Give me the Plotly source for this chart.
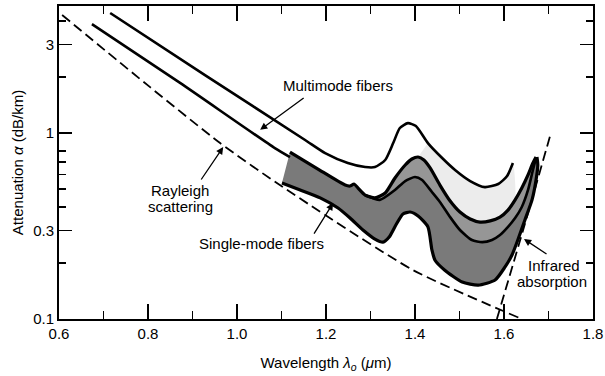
import numpy as np
import plotly.graph_objects as go

# ---------------- data ----------------
# Rayleigh scattering limit (dashed)
rayleigh_wl = [0.607, 0.804, 0.962, 1.103, 1.396, 1.636]
rayleigh_att = [4.31, 1.77, 0.883, 0.512, 0.183, 0.101]

# Infrared absorption limit (dashed)
infrared_wl = [1.584, 1.643, 1.703]
infrared_att = [0.100, 0.301, 0.954]

# Multimode fibers, upper curve
mm_upper_wl = [0.715, 0.928, 1.153, 1.198, 1.249, 1.288, 1.310, 1.333, 1.351, 1.366,
               1.384, 1.402, 1.429, 1.461, 1.490, 1.524, 1.557, 1.587, 1.607, 1.620]
mm_upper_att = [4.42, 2.05, 0.917, 0.780, 0.690, 0.656, 0.656, 0.716, 0.883, 1.064,
                1.13, 1.09, 0.883, 0.734, 0.633, 0.552, 0.512, 0.532, 0.587, 0.690]

# Multimode fibers, lower curve (runs into the single-mode band)
mm_lower_wl = [0.674, 0.872, 1.085, 1.119]
mm_lower_att = [3.85, 1.86, 0.830, 0.743]

# Single-mode fibers band: upper edge
sm_top_wl = [1.119, 1.182, 1.243, 1.254, 1.263, 1.272, 1.288, 1.310, 1.333, 1.355,
             1.378, 1.393, 1.407, 1.420, 1.434, 1.456, 1.479, 1.501, 1.524, 1.546,
             1.569, 1.591, 1.609, 1.625, 1.640, 1.654, 1.665, 1.672]
sm_top_att = [0.790, 0.640, 0.525, 0.519, 0.532, 0.506, 0.464, 0.448, 0.476, 0.573,
              0.673, 0.725, 0.743, 0.716, 0.649, 0.525, 0.431, 0.376, 0.345, 0.332,
              0.337, 0.353, 0.385, 0.437, 0.506, 0.595, 0.690, 0.743]

# Single-mode fibers band: middle line
sm_mid_wl = [1.288, 1.321, 1.355, 1.378, 1.400, 1.416, 1.438, 1.456, 1.479, 1.501,
             1.528, 1.551, 1.573, 1.591, 1.609, 1.625, 1.640, 1.654, 1.665, 1.672]
sm_mid_att = [0.464, 0.437, 0.494, 0.552, 0.580, 0.559, 0.482, 0.426, 0.353, 0.301,
              0.266, 0.259, 0.266, 0.283, 0.313, 0.349, 0.400, 0.494, 0.633, 0.734]

# Single-mode fibers band: lower edge
sm_bot_wl = [1.101, 1.142, 1.187, 1.227, 1.254, 1.283, 1.310, 1.328, 1.342, 1.357,
             1.373, 1.389, 1.407, 1.429, 1.438, 1.445, 1.467, 1.506, 1.542, 1.580,
             1.602, 1.618, 1.631, 1.647, 1.663, 1.672, 1.676, 1.674]
sm_bot_att = [0.538, 0.494, 0.448, 0.395, 0.349, 0.301, 0.269, 0.259, 0.276, 0.320,
              0.367, 0.376, 0.358, 0.313, 0.235, 0.207, 0.183, 0.158, 0.152, 0.162,
              0.190, 0.221, 0.266, 0.341, 0.437, 0.559, 0.673, 0.743]

x_tick_vals = [0.6, 0.8, 1.0, 1.2, 1.4, 1.6, 1.8]
x_tick_text = ["0.6", "0.8", "1.0", "1.2", "1.4", "1.6", "1.8"]
x_minor_vals = [0.7, 0.9, 1.1, 1.3, 1.5, 1.7]
y_tick_vals = [0.1, 0.3, 1, 3]
y_tick_text = ["0.1", "0.3", "1", "3"]
y_minor_vals = [0.2, 0.4, 0.5, 0.6, 0.7, 0.8, 2, 4]

FONT = "Liberation Sans, Arial, Helvetica, sans-serif"
FS = 15

fig = go.Figure()

# faint speckled zone between multimode curve and band top
sp_top_wl = [w for w in mm_upper_wl if w >= 1.42]
sp_top_att = [a for w, a in zip(mm_upper_wl, mm_upper_att) if w >= 1.42]
sp_bot_wl = [w for w in sm_top_wl if 1.407 <= w <= 1.625]
sp_bot_att = [a for w, a in zip(sm_top_wl, sm_top_att) if 1.407 <= w <= 1.625]
fig.add_trace(go.Scatter(x=sp_top_wl + sp_bot_wl[::-1], y=sp_top_att + sp_bot_att[::-1],
                         mode="lines", fill="toself", fillcolor="#ececec",
                         line=dict(width=0, shape="spline", smoothing=0.6),
                         hoverinfo="skip", showlegend=False))

# dark stippled band (whole single-mode region)
fig.add_trace(go.Scatter(x=sm_top_wl + sm_bot_wl[::-1], y=sm_top_att + sm_bot_att[::-1],
                         mode="lines", fill="toself", fillcolor="#7a7a7a",
                         line=dict(width=0, shape="spline", smoothing=0.6),
                         hoverinfo="skip", showlegend=False))

# lighter hatched sub-band
hb_top_wl = [w for w in sm_top_wl if w >= 1.288]
hb_top_att = [a for w, a in zip(sm_top_wl, sm_top_att) if w >= 1.288]
fig.add_trace(go.Scatter(x=hb_top_wl + sm_mid_wl[::-1], y=hb_top_att + sm_mid_att[::-1],
                         mode="lines", fill="toself", fillcolor="#969696",
                         line=dict(width=0, shape="spline", smoothing=0.6),
                         hoverinfo="skip", showlegend=False))

def line(x, y, w, dash=None):
    fig.add_trace(go.Scatter(x=x, y=y, mode="lines",
                             line=dict(color="black", width=w, dash=dash,
                                       shape="spline", smoothing=0.6),
                             hoverinfo="skip", showlegend=False))

line(sm_top_wl, sm_top_att, 3.2)
line(sm_mid_wl, sm_mid_att, 2.6)
line(sm_bot_wl, sm_bot_att, 3.2)
line(mm_upper_wl, mm_upper_att, 2.6)
line(mm_lower_wl, mm_lower_att, 2.6)
line(rayleigh_wl, rayleigh_att, 1.8, dash="10px,5px")
line(infrared_wl, infrared_att, 1.8, dash="10px,5px")

L = np.log10
annots = [
    dict(x=1.227, y=L(1.81), text="Multimode fibers"),
    dict(x=0.872, y=L(0.49), text="Rayleigh"),
    dict(x=0.872, y=L(0.405), text="scattering"),
    dict(x=1.056, y=L(0.256), text="Single-mode fibers"),
    dict(x=1.712, y=L(0.195), text="Infrared"),
    dict(x=1.708, y=L(0.160), text="absorption"),
]
for a in annots:
    fig.add_annotation(x=a["x"], y=a["y"], text=a["text"], showarrow=False,
                       font=dict(family=FONT, size=FS, color="black"),
                       xanchor="center", yanchor="middle")

arrows = [
    (1.052, 1.04, 45, -33),
    (0.969, 0.841, -23, 34),
    (1.216, 0.420, -20, 32),
    (1.645, 0.269, 24, 16),
]
for (x, y, ax, ay) in arrows:
    fig.add_annotation(x=x, y=L(y), ax=ax, ay=ay, text="", showarrow=True,
                       arrowhead=2, arrowsize=1.1, arrowwidth=1.3, arrowcolor="black")

fig.update_xaxes(range=[0.6, 1.8], tickvals=x_tick_vals, ticktext=x_tick_text,
                 ticks="inside", ticklen=15, tickwidth=1.5, tickcolor="black",
                 minor=dict(tickvals=x_minor_vals, ticks="inside", ticklen=8,
                            tickwidth=1.5, tickcolor="black"),
                 showline=True, linewidth=2, linecolor="black", mirror="ticks",
                 showgrid=False, zeroline=False, automargin=False,
                 ticklabeloverflow="allow",
                 tickfont=dict(family=FONT, size=FS, color="black"),
                 title=dict(text="Wavelength <i>λ</i><sub><i>o</i></sub> (<i>μ</i>m)",
                            font=dict(family=FONT, size=FS, color="black"), standoff=16))
fig.update_yaxes(type="log", range=[-1, 0.683], tickvals=y_tick_vals, ticktext=y_tick_text,
                 ticks="inside", ticklen=13, tickwidth=1.5, tickcolor="black",
                 minor=dict(tickvals=y_minor_vals, ticks="inside", ticklen=7,
                            tickwidth=1.5, tickcolor="black"),
                 showline=True, linewidth=2, linecolor="black", mirror="ticks",
                 showgrid=False, zeroline=False, automargin=False,
                 tickfont=dict(family=FONT, size=FS, color="black"),
                 title=dict(text="Attenuation <i>α</i> (dB/km)",
                            font=dict(family=FONT, size=FS, color="black"), standoff=6))

fig.update_layout(width=605, height=376, margin=dict(l=59, r=12, t=6, b=57),
                  paper_bgcolor="white", plot_bgcolor="white", showlegend=False)

fig.write_html("out.html", config={"displayModeBar": False, "staticPlot": True},
               post_script="document.body.style.margin='0px';document.body.style.overflow='hidden';")
